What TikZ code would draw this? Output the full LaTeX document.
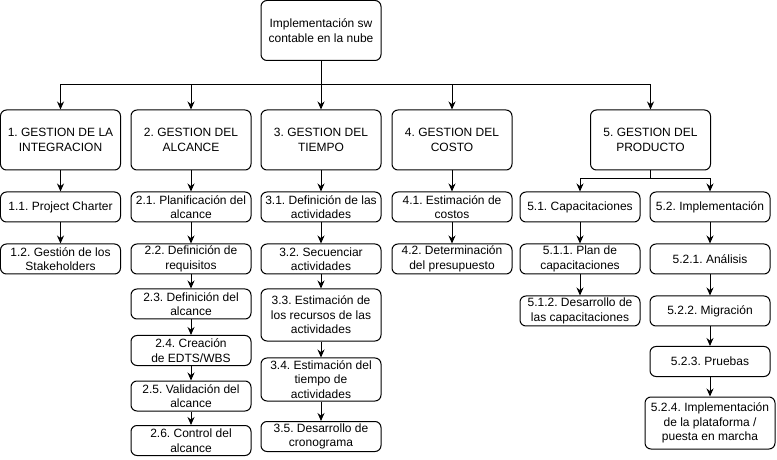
\documentclass[tikz,border=0pt]{standalone}
\usepackage{fontspec}
\setmainfont{Liberation Sans}
\usetikzlibrary{arrows.meta}
\frenchspacing

\begin{document}
\begin{tikzpicture}[
    x = 1bp,
    y = -1bp,
    >={Stealth[length=8bp, width=7bp]},
    line width = 1bp,
    ]

    \tikzstyle{box}=[
    draw = black,
    rounded corners = 6bp,
    align = center,
    inner xsep = 0pt,
    inner ysep = 1bp,
    font = \fontsize{12bp}{14.5bp}\selectfont,
    minimum width = 120bp,
    minimum height = 30bp,
    ]
    \tikzstyle{big}=[box, minimum height = 60bp]

    \useasboundingbox (0,0) rectangle (777,460);

    \node[big] (r) at (321,30.5) {Implementación sw\\contable en la nube};

    \node[big] (g1) at (60.5,140) {1. GESTION DE LA\\INTEGRACION};
    \node[big] (g2) at (191,140) {2. GESTION DEL\\ALCANCE};
    \node[big] (g3) at (321,140) {3. GESTION DEL\\TIEMPO};
    \node[big] (g4) at (452,140) {4. GESTION DEL\\COSTO};
    \node[big] (g5) at (650.5,140) {5. GESTION DEL\\PRODUCTO};

    \node[box] (a11) at (60.5,207) {1.1. Project Charter};
    \node[box] (a12) at (60.5,259) {1.2. Gestión de los\\Stakeholders};

    \node[box] (a21) at (191,207) {2.1. Planificación del\\alcance};
    \node[box] (a22) at (191,259) {2.2. Definición de\\requisitos};
    \node[box] (a23) at (191,304) {2.3. Definición del\\alcance};
    \node[box] (a24) at (191,350.5) {2.4. Creación\\de EDTS/WBS};
    \node[box] (a25) at (191,396) {2.5. Validación del\\alcance};
    \node[box] (a26) at (191,440.5) {2.6. Control del\\alcance};

    \node[box] (a31) at (321,207) {3.1. Definición de las\\actividades};
    \node[box] (a32) at (321,259) {3.2. Secuenciar\\actividades};
    \node[box, minimum height=52bp] (a33) at (321,315) {3.3. Estimación de\\los recursos de las\\actividades};
    \node[box, minimum height=43bp] (a34) at (321,379.5) {3.4. Estimación del\\tiempo de\\actividades};
    \node[box] (a35) at (321,436.5) {3.5. Desarrollo de\\cronograma};

    \node[box] (a41) at (452,207) {4.1. Estimación de\\costos};
    \node[box] (a42) at (452,259) {4.2. Determinación\\del presupuesto};

    \node[box] (a51) at (580,207) {5.1. Capacitaciones};
    \node[box] (a511) at (580,259) {5.1.1. Plan de\\capacitaciones};
    \node[box] (a512) at (580,311) {5.1.2. Desarrollo de\\las capacitaciones};

    \node[box] (a52) at (710,207) {5.2. Implementación};
    \node[box] (a521) at (710,259) {5.2.1. Análisis};
    \node[box] (a522) at (710,311) {5.2.2. Migración};
    \node[box] (a523) at (710,361.5) {5.2.3. Pruebas};
    \node[box, minimum width=130bp, minimum height=52bp] (a524) at (710,423) {5.2.4. Implementación\\de la plataforma /\\puesta en marcha};

    \coordinate (bus) at (321,85);
    \coordinate (bus5) at (650.5,179);

    \draw[->] (r.south) -- (bus) -| (g1.north);
    \draw[->] (bus) -| (g2.north);
    \draw[->] (r) -- (g3);
    \draw[->] (bus) -| (g4.north);
    \draw[->] (bus) -| (g5.north);

    \path[->] (g1) edge (a11);
    \path[->] (a11) edge (a12);

    \path[->] (g2) edge (a21);
    \path[->] (a21) edge (a22);
    \path[->] (a22) edge (a23);
    \path[->] (a23) edge (a24);
    \path[->] (a24) edge (a25);
    \path[->] (a25) edge (a26);

    \path[->] (g3) edge (a31);
    \path[->] (a31) edge (a32);
    \path[->] (a32) edge (a33);
    \path[->] (a33) edge (a34);
    \path[->] (a34) edge (a35);

    \path[->] (g4) edge (a41);
    \path[->] (a41) edge (a42);

    \draw[->] (g5.south) -- (bus5) -| (a51.north);
    \draw[->] (bus5) -| (a52.north);
    \path[->] (a51) edge (a511);
    \path[->] (a511) edge (a512);
    \path[->] (a52) edge (a521);
    \path[->] (a521) edge (a522);
    \path[->] (a522) edge (a523);
    \path[->] (a523) edge (a524);
  \end{tikzpicture}
\end{document}
